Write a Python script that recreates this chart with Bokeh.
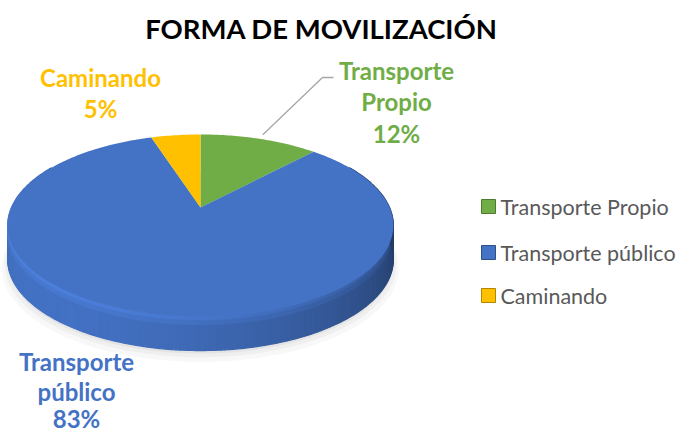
import numpy as np
from bokeh.plotting import figure
from bokeh.models import Range1d
from bokeh.core.properties import value
from bokeh.embed import file_html
from bokeh.resources import INLINE

# ---- data ----
title = "FORMA DE MOVILIZACIÓN"
categories = ["Transporte Propio", "Transporte público", "Caminando"]
values = [12, 83, 5]
colors = ["#70AD47", "#4472C4", "#FFC000"]
label_lines = [["Transporte", "Propio", "12%"], ["Transporte", "público", "83%"], ["Caminando", "5%"]]

W, H = 686, 434
p = figure(width=W, height=H, x_range=Range1d(0, W), y_range=Range1d(H, 0),
           output_backend="svg", toolbar_location=None, min_border=0,
           x_axis_location=None, y_axis_location=None)
p.grid.visible = False
p.outline_line_color = None
p.background_fill_color = "white"

FONT = "Lato"

# ---- 3D pie geometry (perspective ellipse) ----
CX, CY, RX, RY, K, DEPTH = 200, 207, 189, 87.5, 0.198, 34


def proj(theta, scale=1.0):
    c, s = np.cos(theta) * scale, np.sin(theta) * scale
    d = 1 + K * np.sin(theta)
    return CX + RX * c / d, CY - RY * s / d


def hex_to_rgb(h):
    h = h.lstrip("#")
    return [int(h[i:i + 2], 16) for i in (0, 2, 4)]


def shade(h, f):
    r, g, b = hex_to_rgb(h)
    return "#%02x%02x%02x" % tuple(int(max(0, min(255, v * f))) for v in (r, g, b))


total = float(sum(values))
bounds = []
start = np.pi / 2
for v in values:
    end = start - 2 * np.pi * v / total
    bounds.append((start, end))
    start = end


def slice_of(theta):
    a = (np.pi / 2 - theta) % (2 * np.pi)
    acc = 0.0
    for i, v in enumerate(values):
        acc += 2 * np.pi * v / total
        if a <= acc:
            return i
    return len(values) - 1


# faint soft shadow
ts_full = np.linspace(0, 2 * np.pi, 200)
for sc, off, al in [(1.03, 8, 0.06), (1.015, 5, 0.08), (1.0, 3, 0.1)]:
    sx, sy = proj(ts_full, sc)
    p.patch(list(sx), list(sy + DEPTH + off), fill_color="#8c8c8c", fill_alpha=al, line_color=None)

# side strips (with a lighter bevel band at the top of the side)
ts = np.linspace(np.radians(150), np.radians(390), 241)
bands = [(0, 4, 0.12), (4, 9, 0.06), (9, DEPTH, 0.0)]
side_xs, side_ys, side_cols = [], [], []
for a, b in zip(ts[:-1], ts[1:]):
    xa, ya = proj(a)
    xb, yb = proj(b)
    mid = (a + b) / 2
    f = 0.72 + 0.28 * np.cos(mid - np.radians(225))
    base = colors[slice_of(mid)]
    for d0, d1, extra in bands:
        col = shade(base, f + extra)
        side_xs.append([xa, xb, xb, xa])
        side_ys.append([ya + d0, yb + d0, yb + d1, ya + d1])
        side_cols.append(col)
p.patches(side_xs, side_ys, fill_color=side_cols, line_color=side_cols, line_width=1.2)

# top faces
top_xs, top_ys = [], []
for (s0, s1), v in zip(bounds, values):
    t = np.linspace(s0, s1, max(10, int(v * 4)))
    x, y = proj(t)
    top_xs.append([CX] + list(x))
    top_ys.append([CY] + list(y))
p.patches(top_xs, top_ys, fill_color=colors, line_color=None)

# ---- title ----
p.text(x=[321], y=[28], text=[title], text_font=value(FONT), text_font_style="bold",
       text_font_size="27.5px", text_color="#000000", text_align="center", text_baseline="middle")

# ---- data labels ----
lbl_font = "24px"
# Transporte Propio
p.text(x=[396, 396, 396], y=[70, 101, 133], text=label_lines[0], text_font=value(FONT),
       text_font_style="bold", text_font_size=lbl_font, text_color=colors[0],
       text_align="center", text_baseline="middle")
# Transporte público
p.text(x=[76, 76, 76], y=[361, 391, 418], text=label_lines[1], text_font=value(FONT),
       text_font_style="bold", text_font_size=lbl_font, text_color=colors[1],
       text_align="center", text_baseline="middle")
# Caminando
p.text(x=[100, 100], y=[77, 108], text=label_lines[2], text_font=value(FONT),
       text_font_style="bold", text_font_size=lbl_font, text_color=colors[2],
       text_align="center", text_baseline="middle")

# leader line for Transporte Propio
mid0 = (bounds[0][0] + bounds[0][1]) / 2
lx, ly = proj(mid0, 1.06)
p.line([float(lx), 322, 333], [float(ly), 77, 77], line_color="#A6A6A6", line_width=1.3)

# ---- legend ----
leg_y = [206, 252, 295]
p.scatter(x=[488] * 3, y=leg_y, marker="square", size=14, fill_color=colors,
          line_color=[shade(c, 0.7) for c in colors], line_width=1)
p.text(x=[500] * 3, y=leg_y, text=categories, text_font=value(FONT), text_font_size="21.5px",
       text_color="#595959", text_align="left", text_baseline="middle")

open("out.html", "w").write(file_html(p, INLINE))
